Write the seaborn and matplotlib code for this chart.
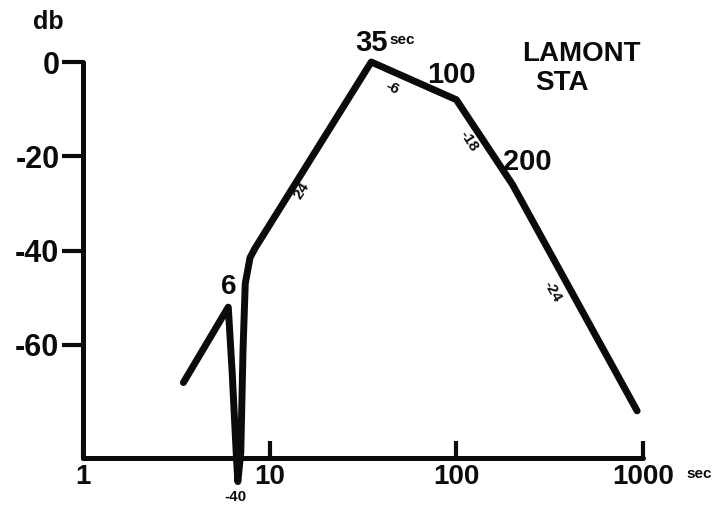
import numpy as np
import pandas as pd
import matplotlib
matplotlib.use("Agg")
import matplotlib.pyplot as plt
from matplotlib import font_manager as fm
import seaborn as sns

# Spectrum of the LAMONT station record: relative level (db) against period (sec)
period_sec = [3.45, 6.0, 6.3, 6.6, 6.75, 7.0, 7.2, 7.4, 7.85, 8.35, 35, 100, 200, 930]
level_db = [-68, -52, -66, -82, -89, -83, -61, -47, -41.5, -39.5, 0, -8, -26, -74]

x_ticks = [1, 10, 100, 1000]
x_tick_labels = ["1", "10", "100", "1000"]
y_ticks = [0, -20, -40, -60]
y_tick_labels = ["0", "-20", "-40", "-60"]

# corner periods called out on the curve
corner_labels = ["6", "35", "100", "200"]
# slopes of the straight segments, db per octave
slope_labels = ["24", "-6", "-18", "-24"]

sns.set_theme(style="white")
names = {f.name for f in fm.fontManager.ttflist}
family = "Liberation Sans Narrow" if "Liberation Sans Narrow" in names else "Liberation Sans"
plt.rcParams["font.family"] = [family, "DejaVu Sans"]
plt.rcParams["font.weight"] = "bold"

ink = "#0b0b0b"
fig = plt.figure(figsize=(7.23, 5.14), dpi=100)
fig.patch.set_facecolor("white")
ax = fig.add_axes([83 / 723, 56 / 514, 560 / 723, 396 / 514])
ax.set_facecolor("white")

df = pd.DataFrame({"period": period_sec, "level": level_db})
sns.lineplot(data=df, x="period", y="level", sort=False, estimator=None,
             color=ink, linewidth=5.0, ax=ax)
for ln in ax.get_lines():
    ln.set_clip_on(False)
    ln.set_solid_joinstyle("round")
    ln.set_solid_capstyle("round")

ax.set_xscale("log")
ax.set_xlim(1, 1000)
ax.set_ylim(-84, 0)
ax.set_xlabel("")
ax.set_ylabel("")

for side in ("top", "right"):
    ax.spines[side].set_visible(False)
for side in ("left", "bottom"):
    ax.spines[side].set_linewidth(3.6)
    ax.spines[side].set_color(ink)
    ax.spines[side].set_capstyle("round")

ax.set_xticks(x_ticks)
ax.set_xticklabels(x_tick_labels)
ax.xaxis.set_minor_locator(matplotlib.ticker.NullLocator())
ax.set_yticks(y_ticks)
ax.set_yticklabels(y_tick_labels)
ax.tick_params(axis="x", direction="in", length=12, width=3, color=ink,
               labelsize=20, pad=4, labelcolor=ink, bottom=True)
ax.tick_params(axis="y", direction="out", length=15, width=3, color=ink,
               labelsize=22, pad=2, labelcolor=ink, left=True)
for lab in ax.get_xticklabels() + ax.get_yticklabels():
    lab.set_fontweight("bold")

txt = dict(color=ink, fontweight="bold", clip_on=False)

# unit labels
ax.text(0.65, 8.5, "db", fontsize=18, ha="center", va="center", **txt)
ax.text(1990, -87.3, "sec", fontsize=11, ha="center", va="center", **txt)

# corner periods
ax.text(period_sec[1], -47.7, corner_labels[0], fontsize=20, ha="center", va="center", **txt)
ax.text(period_sec[10], 4.0, corner_labels[1], fontsize=21, ha="center", va="center", **txt)
ax.text(44, 4.6, "sec", fontsize=11, ha="left", va="center", **txt)
ax.text(94.7, -2.8, corner_labels[2], fontsize=21, ha="center", va="center", **txt)
ax.text(239, -21.2, corner_labels[3], fontsize=21, ha="center", va="center", **txt)

# level at the bottom of the notch
ax.text(6.52, -92.3, "-40", fontsize=11, ha="center", va="center", **txt)

# slope annotations along the segments
ax.text(14.9, -27.2, slope_labels[0], fontsize=11, rotation=58, ha="center", va="center", **txt)
ax.text(45.2, -5.5, slope_labels[1], fontsize=11, rotation=-24, ha="center", va="center", **txt)
ax.text(116.8, -16.8, slope_labels[2], fontsize=11, rotation=-57, ha="center", va="center", **txt)
ax.text(325, -48.8, slope_labels[3], fontsize=11, rotation=-60, ha="center", va="center", **txt)

# station name
ax.text(224, 1.6, "LAMONT", fontsize=20, ha="left", va="center", **txt)
ax.text(264, -4.5, "STA", fontsize=20, ha="left", va="center", **txt)

fig.savefig("out.png", dpi=100, facecolor="white")
